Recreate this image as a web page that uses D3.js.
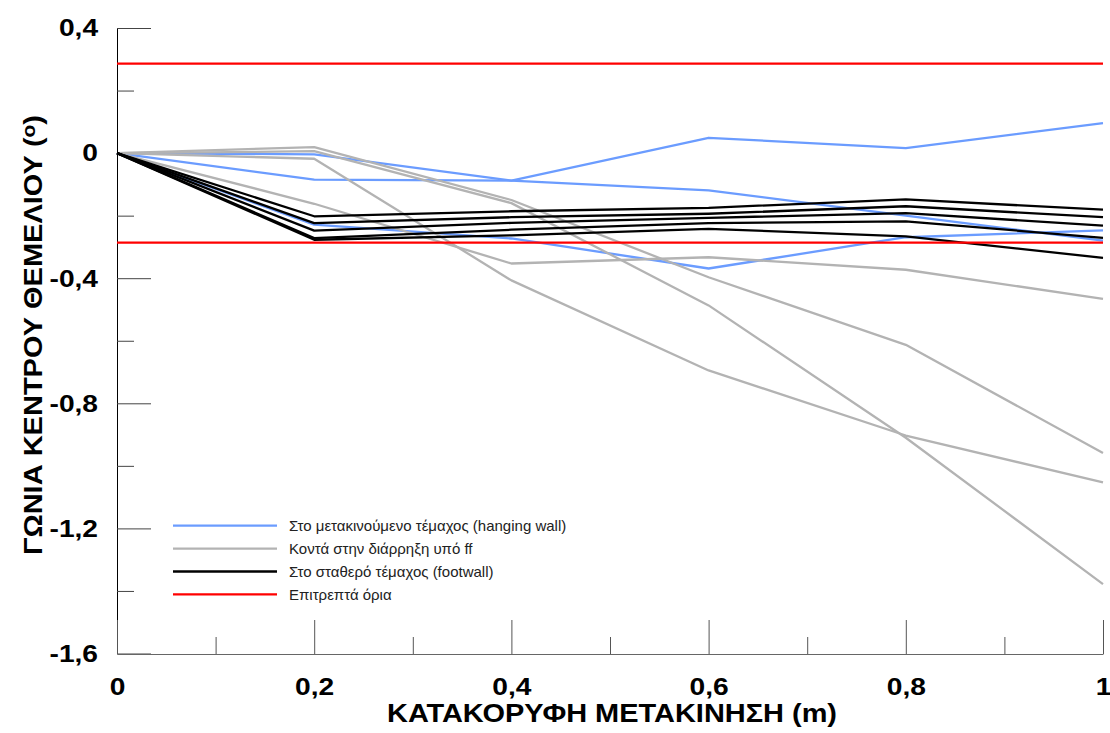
<!DOCTYPE html>
<html>
<head>
<meta charset="utf-8">
<script src="https://cdn.jsdelivr.net/npm/d3@7"></script>
<style>
  body { margin: 0; background: #fff; }
  svg { font-family: "Liberation Sans", Arial, sans-serif; }
</style>
</head>
<body>
<div id="chart"></div>
<script>
// displacement steps (m)
const xs = [0, 0.2, 0.4, 0.6, 0.8, 1.0];

// hanging wall
const hanging = [
  [0, -0.004, -0.088, 0.049, 0.016, 0.096],
  [0, -0.085, -0.088, -0.119, -0.200, -0.280],
  [0, -0.229, -0.273, -0.369, -0.269, -0.247]
];
// near the rupture
const nearFault = [
  [0, 0.019, -0.150, -0.397, -0.613, -0.959],
  [0, 0.006, -0.160, -0.487, -0.910, -1.378],
  [0, -0.018, -0.407, -0.695, -0.903, -1.053],
  [0, -0.162, -0.353, -0.333, -0.373, -0.466]
];
// footwall
const footwall = [
  [0, -0.202, -0.186, -0.175, -0.148, -0.181],
  [0, -0.224, -0.205, -0.194, -0.170, -0.205],
  [0, -0.248, -0.223, -0.207, -0.192, -0.232],
  [0, -0.272, -0.245, -0.224, -0.218, -0.271],
  [0, -0.277, -0.263, -0.242, -0.266, -0.335]
];
// allowed limits
const limits = [0.286, -0.286];

const yMajor = [0.4, 0, -0.4, -0.8, -1.2, -1.6];
const yMinor = [0.2, -0.2, -0.6, -1.0, -1.4];
const xMajor = [0, 0.2, 0.4, 0.6, 0.8, 1];
const xMinor = [0.1, 0.3, 0.5, 0.7, 0.9];

const legendItems = [
  { label: "Στο μετακινούμενο τέμαχος (hanging wall)", color: "#6b9cff" },
  { label: "Κοντά στην διάρρηξη υπό ff", color: "#b3b3b3" },
  { label: "Στο σταθερό τέμαχος (footwall)", color: "#000000" },
  { label: "Επιτρεπτά όρια", color: "#ff0000" }
];

const W = 1110, H = 733;
const svg = d3.select("#chart").append("svg").attr("width", W).attr("height", H);

const x = d3.scaleLinear().domain([0, 1]).range([117, 1103]);
const y = d3.scaleLinear().domain([-1.6, 0.4]).range([653.5, 28]);

const fmt = d => String(+d.toFixed(1)).replace(".", ",");

// axes
let gy = svg.append("g").attr("transform", "translate(117,0)")
  .call(d3.axisLeft(y).tickValues(yMajor).tickSize(-34).tickSizeOuter(0).tickPadding(16.5).tickFormat(fmt));
gy.select(".domain").attr("stroke", "#000");
gy.selectAll(".tick line").attr("stroke", "#444");
gy.selectAll("text").attr("font-size", 24.5).attr("font-weight", "bold").attr("fill", "#000")
  .attr("transform", "scale(1.15,1)");

let gy2 = svg.append("g").attr("transform", "translate(117,0)")
  .call(d3.axisLeft(y).tickValues(yMinor).tickSize(-17).tickFormat(""));
gy2.select(".domain").remove();
gy2.selectAll(".tick line").attr("stroke", "#444");

let gx = svg.append("g").attr("transform", "translate(0,654)")
  .call(d3.axisBottom(x).tickValues(xMajor).tickSize(-34).tickSizeOuter(0).tickPadding(24).tickFormat(fmt));
gx.select(".domain").attr("stroke", "#666");
gx.selectAll(".tick line").attr("stroke", "#555");
gx.selectAll("text").attr("font-size", 24.5).attr("font-weight", "bold").attr("fill", "#000")
  .attr("transform", "scale(1.15,1)");

let gx2 = svg.append("g").attr("transform", "translate(0,654)")
  .call(d3.axisBottom(x).tickValues(xMinor).tickSize(-17).tickFormat(""));
gx2.select(".domain").remove();
gx2.selectAll(".tick line").attr("stroke", "#555");

// series
const line = d3.line().x((d, i) => x(xs[i])).y(d => y(d));

function drawGroup(data, color) {
  svg.append("g").selectAll("path").data(data).join("path")
    .attr("d", line)
    .attr("fill", "none")
    .attr("stroke", color)
    .attr("stroke-width", 2.3)
    .attr("stroke-linejoin", "round");
}
drawGroup(hanging, legendItems[0].color);
drawGroup(nearFault, legendItems[1].color);
drawGroup(footwall, legendItems[2].color);

svg.append("g").selectAll("line").data(limits).join("line")
  .attr("x1", x(0)).attr("x2", x(1))
  .attr("y1", d => y(d)).attr("y2", d => y(d))
  .attr("stroke", legendItems[3].color)
  .attr("stroke-width", 2.3);

// legend
const lg = svg.append("g").attr("transform", "translate(173,525.7)");
const row = lg.selectAll("g").data(legendItems).join("g")
  .attr("transform", (d, i) => `translate(0,${i * 22.9})`);
row.append("line").attr("x1", 0).attr("x2", 104)
  .attr("stroke", d => d.color).attr("stroke-width", 2.3);
row.append("text").attr("x", 116).attr("dy", "0.36em")
  .attr("font-size", 15).attr("fill", "#222").text(d => d.label);

// axis titles
svg.append("text")
  .attr("x", 612).attr("y", 722)
  .attr("text-anchor", "middle").attr("font-size", 25).attr("font-weight", "bold")
  .attr("textLength", 450).attr("lengthAdjust", "spacingAndGlyphs")
  .text("ΚΑΤΑΚΟΡΥΦΗ ΜΕΤΑΚΙΝΗΣΗ (m)");

const yt = svg.append("text")
  .attr("transform", "translate(42,335) rotate(-90)")
  .attr("text-anchor", "middle").attr("font-size", 25).attr("font-weight", "bold")
  .attr("textLength", 440).attr("lengthAdjust", "spacingAndGlyphs");
yt.append("tspan").text("ΓΩΝΙΑ ΚΕΝΤΡΟΥ ΘΕΜΕΛΙΟΥ (");
yt.append("tspan").attr("font-size", 18).attr("dy", -7).text("o");
yt.append("tspan").attr("dy", 7).text(")");
</script>
</body>
</html>
